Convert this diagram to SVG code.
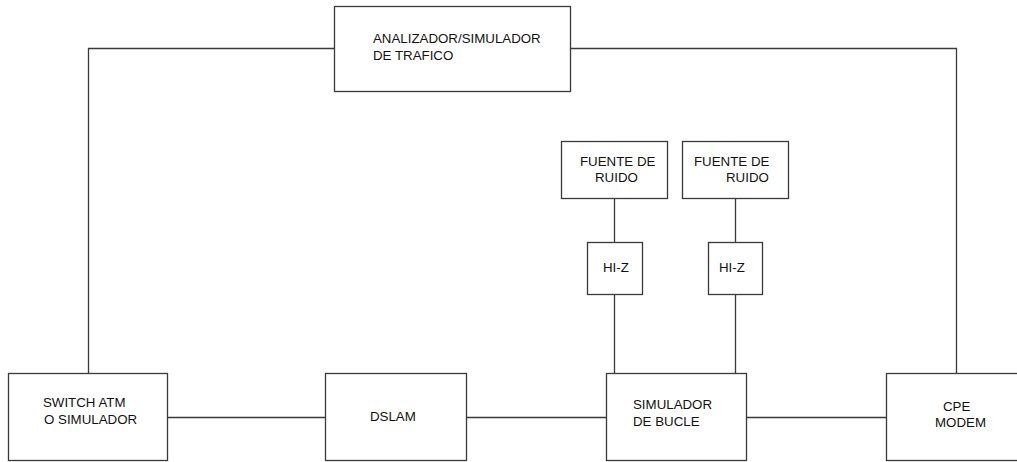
<svg xmlns="http://www.w3.org/2000/svg" width="1017" height="462" viewBox="0 0 1017 462">
<style>
.b{fill:#fff;stroke:#3a3a3a;stroke-width:1.3}
.c{fill:none;stroke:#3a3a3a;stroke-width:1.3}
text{font-family:"Liberation Sans",Arial,sans-serif;font-size:13.3px;fill:#111}
</style>
<rect width="1017" height="462" fill="#fff"/>
<g id="connectors">
<polyline class="c" points="334,48.5 88.5,48.5 88.5,373"/>
<polyline class="c" points="570,48.5 956.5,48.5 956.5,373"/>
<line class="c" x1="167" y1="417.5" x2="325" y2="417.5"/>
<line class="c" x1="466" y1="417.5" x2="606" y2="417.5"/>
<line class="c" x1="746" y1="417.5" x2="886" y2="417.5"/>
<line class="c" x1="614.5" y1="198" x2="614.5" y2="242"/>
<line class="c" x1="614.5" y1="294" x2="614.5" y2="373"/>
<line class="c" x1="735.5" y1="198" x2="735.5" y2="242"/>
<line class="c" x1="735.5" y1="294" x2="735.5" y2="373"/>
</g>
<g id="analizador">
<rect class="b" x="334.5" y="6.5" width="236" height="85"/>
<text x="373" y="42.5">ANALIZADOR/SIMULADOR</text>
<text x="373" y="59.5">DE TRAFICO</text>
</g>
<g id="ruido1">
<rect class="b" x="561.5" y="141.5" width="106" height="57"/>
<text x="580" y="165.5">FUENTE DE</text>
<text x="595" y="182">RUIDO</text>
</g>
<g id="ruido2">
<rect class="b" x="682.5" y="141.5" width="106" height="57"/>
<text x="694" y="165.5">FUENTE DE</text>
<text x="726" y="182">RUIDO</text>
</g>
<g id="hiz1">
<rect class="b" x="587.5" y="242.5" width="55" height="52"/>
<text x="603" y="272">HI-Z</text>
</g>
<g id="hiz2">
<rect class="b" x="708.5" y="242.5" width="54" height="52"/>
<text x="719" y="272">HI-Z</text>
</g>
<g id="switch">
<rect class="b" x="8.5" y="373.5" width="159" height="87"/>
<text x="43" y="407">SWITCH ATM</text>
<text x="44" y="423.5">O SIMULADOR</text>
</g>
<g id="dslam">
<rect class="b" x="325.5" y="373.5" width="141" height="87"/>
<text x="370" y="421">DSLAM</text>
</g>
<g id="bucle">
<rect class="b" x="606.5" y="373.5" width="140" height="87"/>
<text x="633" y="409">SIMULADOR</text>
<text x="633" y="425.5">DE BUCLE</text>
</g>
<g id="cpe">
<rect class="b" x="886.5" y="373.5" width="140" height="87"/>
<text x="943" y="411">CPE</text>
<text x="935" y="427">MODEM</text>
</g>
</svg>
